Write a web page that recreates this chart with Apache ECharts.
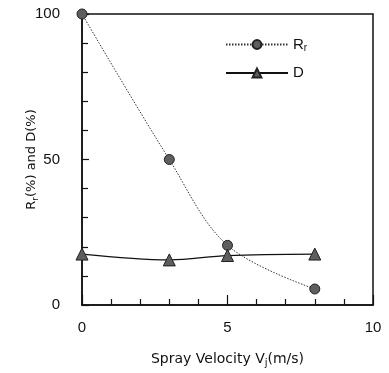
<!DOCTYPE html>
<html><head><meta charset="utf-8">
<script src="https://cdn.jsdelivr.net/npm/echarts@6/dist/echarts.min.js"></script>
<style>html,body{margin:0;padding:0;background:#fff}#c{width:389px;height:373px}</style>
</head><body><div id="c"></div>
<script>
const velocity = [0, 3, 5, 8];
const rrValues = [100, 50, 20.5, 5.5];
const dValues = [17.5, 15.5, 17, 17.5];
const xTicks = [0, 5, 10];
const yTicks = [0, 50, 100];

const chart = echarts.init(document.getElementById('c'));
const font = 'Liberation Sans, Arial, sans-serif';
const nameFont = 'DejaVu Sans, sans-serif';
chart.setOption({
  animation: false,
  backgroundColor: '#fff',
  grid: {left: 82, right: 16, top: 14, bottom: 68, show: true, borderColor: '#111', borderWidth: 1.5},
  legend: {
    orient: 'vertical', left: 220, top: 32, itemWidth: 62, itemHeight: 11, itemGap: 12,
    data: ['Rr', 'D'],
    textStyle: {fontFamily: font, fontSize: 15, color: '#111', rich: {sub: {fontSize: 10, verticalAlign: 'bottom', padding: [8, 0, 0, 0], fontFamily: font}}},
    formatter: n => n === 'Rr' ? 'R{sub|r}' : n
  },
  xAxis: {
    type: 'value', min: 0, max: 10, interval: 5,
    name: 'Spray Velocity V{sub|j}(m/s)', nameLocation: 'middle', nameGap: 45, nameMoveOverlap: false,
    nameTextStyle: {fontFamily: nameFont, fontSize: 14, color: '#111', rich: {sub: {fontSize: 10, padding: [8, 0, 0, 0], fontFamily: nameFont}}},
    axisLine: {lineStyle: {color: '#111', width: 1.5}},
    axisTick: {inside: true, length: 10, lineStyle: {color: '#111', width: 1.2}},
    minorTick: {show: true, splitNumber: 5, length: 6, lineStyle: {color: '#111', width: 1.2}},
    splitLine: {show: false},
    axisLabel: {fontFamily: font, fontSize: 15, color: '#111', margin: 15,
      formatter: v => xTicks.includes(v) ? String(v) : ''}
  },
  yAxis: {
    type: 'value', min: 0, max: 100, interval: 50,
    name: 'R{sub|r}(%) and D(%)', nameLocation: 'middle', nameGap: 42, nameMoveOverlap: false,
    nameTextStyle: {fontFamily: nameFont, fontSize: 13, color: '#111', rich: {sub: {fontSize: 9, padding: [8, 0, 0, 0], fontFamily: nameFont}}},
    axisLine: {lineStyle: {color: '#111', width: 1.5}},
    axisTick: {inside: true, length: 7, lineStyle: {color: '#111', width: 1.2}},
    minorTick: {show: true, splitNumber: 5, length: 6, lineStyle: {color: '#111', width: 1.2}},
    splitLine: {show: false},
    axisLabel: {fontFamily: font, fontSize: 15, color: '#111', margin: 22,
      formatter: v => yTicks.includes(v) ? String(v) : ''}
  },
  series: [
    {name: 'Rr', type: 'line', smooth: 0.35, data: velocity.map((x, i) => [x, rrValues[i]]),
     symbol: 'circle', symbolSize: 10,
     itemStyle: {color: '#5e5e5e', borderColor: '#222', borderWidth: 1},
     lineStyle: {color: '#333', width: 1, type: [1.5, 1.5]}},
    {name: 'D', type: 'line', smooth: 0.35, data: velocity.map((x, i) => [x, dValues[i]]),
     symbol: 'triangle', symbolSize: 12,
     itemStyle: {color: '#5e5e5e', borderColor: '#222', borderWidth: 1},
     lineStyle: {color: '#111', width: 1.2}}
  ]
});
</script></body></html>
